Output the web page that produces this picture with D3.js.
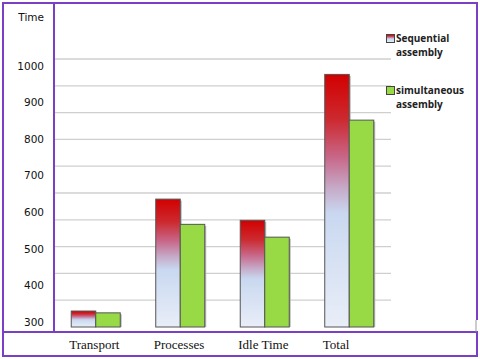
<!DOCTYPE html>
<html>
<head>
<meta charset="utf-8">
<script src="https://cdn.jsdelivr.net/npm/d3@7"></script>
<style>
    body { margin: 0; background: #fff; }
    #space { width: 480px; height: 359px; }
</style>
</head>
<body>
<div id="space"></div>
<script>
var categories = ["Transport", "Processes", "Idle Time", "Total"];
var series_names = ["Sequential assembly", "simultaneous assembly"];
var sequential = [330, 636, 578, 977];
var simultaneous = [325, 567, 532, 852];
var tick_values = [300, 400, 500, 600, 700, 800, 900, 1000];
var axis_title = "Time";

var svg, x, x_inner, y, grid;
var purple = "#7b3fc3";

init();

function init() {
    initSvg();
    initScales();
    drawFrame();
    drawGrid();
    drawBars();
    drawLabels();
    drawLegend();
}

function initSvg() {
    svg = d3.select("#space").append("svg")
                .attr("xmlns", "http://www.w3.org/2000/svg")
                .attr("width", 480)
                .attr("height", 359);

    var defs = svg.append("defs");
    var grad = defs.append("linearGradient")
                .attr("id", "seqGrad")
                .attr("x1", 0).attr("y1", 0)
                .attr("x2", 0).attr("y2", 1);
    var stops = [[0, "#d20000"], [0.18, "#cc2a30"], [0.33, "#c8688a"], [0.45, "#c6aac8"],
                 [0.55, "#c9d8f0"], [1, "#e9eef8"]];
    stops.forEach(function (s) {
        grad.append("stop").attr("offset", s[0]).attr("stop-color", s[1]);
    });

    //Reorder HTML elements.
    svg.append("g").attr("id", "grid");
    svg.append("g").attr("id", "rect");
    svg.append("g").attr("id", "frame");
    svg.append("g").attr("id", "text");
}

function initScales() {
    x = d3.scaleBand()
            .domain(categories)
            .range([53.5, 391.5])
            .paddingInner(0.42)
            .paddingOuter(0.21);

    x_inner = d3.scaleBand()
            .domain(series_names)
            .range([0, x.bandwidth()]);

    //Tick labels are spaced on their own, as in the picture
    y = d3.scaleLinear()
            .domain([300, 1000])
            .range([322, 66]);

    //Ten equal grid steps between plot bottom and top line
    grid = d3.scaleLinear()
            .domain([0, 10])
            .range([327, 59]);
}

/************************************************
				Frame and grid
*************************************************/
function drawFrame() {
    var g = svg.select("#frame");

    g.append("path")
        .attr("d", "M477,320 L477,3 L3,3 L3,356 L477,356 L477,332 L3,332")
        .attr("fill", "none")
        .attr("stroke", purple)
        .attr("stroke-width", 2);

    g.append("line")
        .attr("x1", 54).attr("y1", 3)
        .attr("x2", 54).attr("y2", 332)
        .attr("stroke", purple)
        .attr("stroke-width", 2);

    g.append("line")
        .attr("x1", 476).attr("y1", 320)
        .attr("x2", 476).attr("y2", 332)
        .attr("stroke", "#999")
        .attr("stroke-width", 1);
}

function drawGrid() {
    svg.select("#grid").selectAll("line")
        .data(d3.range(1, 11))
        .enter().append("line")
        .attr("x1", 55)
        .attr("x2", 391)
        .attr("y1", function (d) { return grid(d); })
        .attr("y2", function (d) { return grid(d); })
        .attr("stroke", "#cfcfcf")
        .attr("stroke-width", 1.3);
}

/************************************************
				Bars
*************************************************/
function drawBars() {
    var base = grid(0);
    var rows = categories.map(function (c, i) {
        return [
            { cat: c, key: series_names[0], value: sequential[i], fill: "url(#seqGrad)" },
            { cat: c, key: series_names[1], value: simultaneous[i], fill: "#98da45" }
        ];
    });

    var groups = svg.select("#rect").selectAll("g")
        .data(rows)
        .enter().append("g")
        .attr("transform", function (d) { return "translate(" + x(d[0].cat) + ",0)"; });

    //Soft shadow on the right side
    groups.selectAll("rect.shadow")
        .data(function (d) { return d; })
        .enter().append("rect")
        .attr("class", "shadow")
        .attr("x", function (d) { return x_inner(d.key) + 1.5; })
        .attr("y", function (d) { return y(d.value) + 1.5; })
        .attr("width", x_inner.bandwidth())
        .attr("height", function (d) { return base - y(d.value) - 1.5; })
        .attr("fill", "#bbb");

    groups.selectAll("rect.bar")
        .data(function (d) { return d; })
        .enter().append("rect")
        .attr("class", "bar")
        .attr("x", function (d) { return x_inner(d.key); })
        .attr("y", function (d) { return y(d.value); })
        .attr("width", x_inner.bandwidth())
        .attr("height", function (d) { return base - y(d.value); })
        .attr("fill", function (d) { return d.fill; })
        .attr("stroke", "#555")
        .attr("stroke-width", 1);
}

/************************************************
				Texts
*************************************************/
function drawLabels() {
    var g = svg.select("#text");

    g.append("text")
        .attr("x", 44)
        .attr("y", 17)
        .attr("dy", "0.35em")
        .attr("text-anchor", "end")
        .attr("font-family", "DejaVu Sans, sans-serif")
        .attr("font-size", "10.5")
        .attr("fill", "#111")
        .text(axis_title);

    g.selectAll("text.tick")
        .data(tick_values)
        .enter().append("text")
        .attr("class", "tick")
        .attr("x", 44)
        .attr("y", function (d) { return y(d); })
        .attr("dy", "0.35em")
        .attr("text-anchor", "end")
        .attr("font-family", "DejaVu Sans, sans-serif")
        .attr("font-size", "10.5")
        .attr("fill", "#111")
        .text(function (d) { return d; });

    g.selectAll("text.cat")
        .data(categories)
        .enter().append("text")
        .attr("class", "cat")
        .attr("x", function (d) { return x(d) - 2; })
        .attr("y", 349)
        .attr("font-family", "Liberation Serif, serif")
        .attr("font-size", "13")
        .attr("fill", "#111")
        .text(function (d) { return d; });
}

function drawLegend() {
    var g = svg.select("#text");
    var fills = ["url(#seqGrad)", "#98da45"];
    var top = [34, 86];

    series_names.forEach(function (name, i) {
        var words = name.split(" ");

        g.append("rect")
            .attr("x", 386.5)
            .attr("y", top[i] + 0.5)
            .attr("width", 8)
            .attr("height", 8)
            .attr("fill", fills[i])
            .attr("stroke", "#444")
            .attr("stroke-width", 1);

        var t = g.append("text")
            .attr("x", 396)
            .attr("y", top[i] + 8)
            .attr("font-family", "Open Sans, sans-serif")
            .attr("font-weight", "bold")
            .attr("font-size", "10")
            .attr("fill", "#222");
        t.append("tspan").text(words[0]);
        t.append("tspan").attr("x", 396).attr("dy", 14).text(words[1]);
    });
}
</script>
</body>
</html>
